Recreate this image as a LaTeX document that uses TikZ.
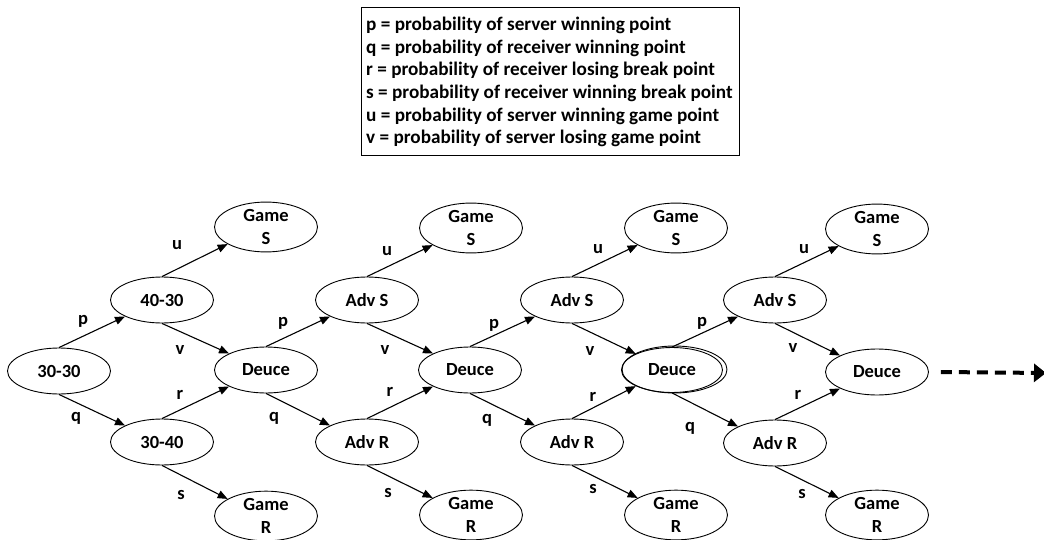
\documentclass[tikz,border=0pt]{standalone}
\usepackage{fontspec}
\setmainfont{Carlito}
\usetikzlibrary{shapes.geometric,arrows.meta,calc}
\begin{document}
\begin{tikzpicture}[x=1pt,y=-1pt,
  state/.style={ellipse, draw, line width=0.9pt, minimum width=103pt, minimum height=46pt,
    inner sep=0pt, align=center, font=\fontsize{18.5}{23}\selectfont\bfseries},
  arr/.style={line width=1.1pt, -{Triangle[length=10pt,width=8pt]}},
  lbl/.style={font=\fontsize{18.5}{22}\selectfont\bfseries, inner sep=0pt, anchor=base},
  legendbox/.style={draw, line width=0.9pt, minimum width=378pt, minimum height=148pt, inner sep=0pt},
  legendtext/.style={align=left, inner sep=0pt, anchor=west, font=\fontsize{19.2}{22.6}\selectfont\bfseries}
]
\useasboundingbox (0,0) rectangle (1044,540);

% legend
\node[legendbox] (legend) at (550,81) {};
\node[legendtext] (legendtxt) at (366,82) {%
  p = probability of server winning point\\
  q = probability of receiver winning point\\
  r = probability of receiver losing break point\\
  s = probability of receiver winning break point\\
  u = probability of server winning game point\\
  v = probability of server losing game point};

% score states
\node[state] (A)   at (59,371)  {30-30};
\node[state] (B)   at (162,300) {40-30};
\node[state] (C)   at (162,442) {30-40};

\node[state] (GS1) at (266,227) {Game\\S};
\node[state] (D1)  at (266,370) {Deuce};
\node[state] (GR1) at (266,516) {Game\\R};
\node[state] (AS1) at (367,300) {Adv S};
\node[state] (AR1) at (367,442) {Adv R};

\node[state] (GS2) at (471,228) {Game\\S};
\node[state] (D2)  at (470,370) {Deuce};
\node[state] (GR2) at (471,515) {Game\\R};
\node[state] (AS2) at (572,300) {Adv S};
\node[state] (AR2) at (572,442) {Adv R};

\node[state] (GS3) at (676,228) {Game\\S};
\node[state, minimum width=101pt, minimum height=45pt] (D3) at (672,370) {Deuce};
\node[ellipse, draw, line width=0.9pt, minimum width=105pt, minimum height=47pt, inner sep=0pt]
  (D3ring) at (674.5,369.5) {};
\node[state] (GR3) at (676,515) {Game\\R};
\node[state] (AS3) at (775,300) {Adv S};
\node[state] (AR3) at (775,443) {Adv R};

\node[state] (GS4) at (877,229) {Game\\S};
\node[state] (D4)  at (877,372) {Deuce};
\node[state] (GR4) at (877,515) {Game\\R};

\coordinate (cont) at (1046,373);

% transitions
\draw[arr] (A.north) -- (B.204);
\draw[arr] (A.south) -- (C.156);
\draw[arr] (B.north) -- (GS1.204);
\draw[arr] (B.south) -- (D1.156);
\draw[arr] (C.north) -- (D1.204);
\draw[arr] (C.south) -- (GR1.156);

\draw[arr] (D1.north) -- (AS1.204);
\draw[arr] (D1.south) -- (AR1.156);
\draw[arr] (AS1.north) -- (GS2.204);
\draw[arr] (AS1.south) -- (D2.156);
\draw[arr] (AR1.north) -- (D2.204);
\draw[arr] (AR1.south) -- (GR2.156);

\draw[arr] (D2.north) -- (AS2.204);
\draw[arr] (D2.south) -- (AR2.156);
\draw[arr] (AS2.north) -- (GS3.204);
\draw[arr] (AS2.south) -- (D3.156);
\draw[arr] (AR2.north) -- (D3.204);
\draw[arr] (AR2.south) -- (GR3.156);

\draw[arr] (D3.north) -- (AS3.204);
\draw[arr] (D3.south) -- (AR3.156);
\draw[arr] (AS3.north) -- (GS4.204);
\draw[arr] (AS3.south) -- (D4.156);
\draw[arr] (AR3.north) -- (D4.204);
\draw[arr] (AR3.south) -- (GR4.156);

% the rally continues beyond the last deuce
\coordinate (dstart) at ($(D4.east)+(12,0)$);
\draw[line width=4pt, dash pattern=on 11pt off 7pt, -{Triangle[length=12pt,width=18pt]}]
  (dstart) -- (cont);

% transition labels
\node[lbl] at (83,324)  {p};
\node[lbl] at (76,421)  {q};
\node[lbl] at (177,250) {u};
\node[lbl] at (180,354) {v};
\node[lbl] at (180,399) {r};
\node[lbl] at (181,499) {s};

\node[lbl] at (283,326) {p};
\node[lbl] at (274,421) {q};
\node[lbl] at (387,255) {u};
\node[lbl] at (385,354) {v};
\node[lbl] at (390,396) {r};
\node[lbl] at (388,497) {s};

\node[lbl] at (494,328) {p};
\node[lbl] at (487,423) {q};
\node[lbl] at (598,253) {u};
\node[lbl] at (590,355) {v};
\node[lbl] at (593,401) {r};
\node[lbl] at (593,493) {s};

\node[lbl] at (702,326) {p};
\node[lbl] at (690,431) {q};
\node[lbl] at (804,254) {u};
\node[lbl] at (793,352) {v};
\node[lbl] at (798,399) {r};
\node[lbl] at (802,498) {s};
\end{tikzpicture}
\end{document}
